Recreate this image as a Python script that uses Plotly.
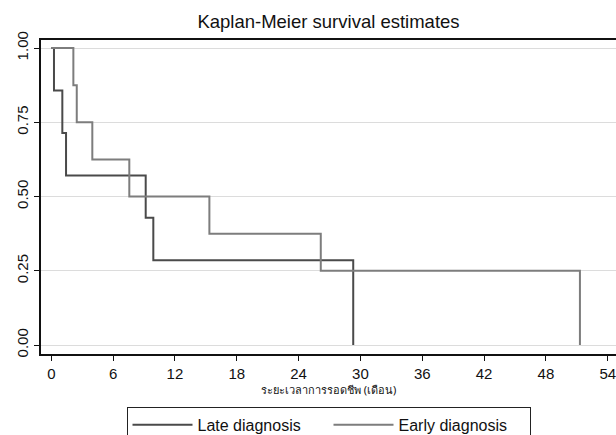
import plotly.graph_objects as go

# Kaplan-Meier step data (months, survival probability)
late_time = [0, 0.26, 1.07, 1.43, 9.16, 9.9, 29.3]
late_surv = [1.0, 0.857, 0.714, 0.571, 0.429, 0.286, 0.0]

early_time = [0, 2.14, 2.47, 3.98, 7.57, 15.34, 26.15, 51.3]
early_surv = [1.0, 0.875, 0.75, 0.625, 0.5, 0.375, 0.25, 0.0]

x_ticks = [0, 6, 12, 18, 24, 30, 36, 42, 48, 54]
y_ticks = [0.0, 0.25, 0.5, 0.75, 1.0]
y_labels = ["0.00", "0.25", "0.50", "0.75", "1.00"]

fig = go.Figure()
fig.add_trace(go.Scatter(x=late_time, y=late_surv, mode="lines", line_shape="hv",
                         name="Late diagnosis", line=dict(color="#4a4a4a", width=2)))
fig.add_trace(go.Scatter(x=early_time, y=early_surv, mode="lines", line_shape="hv",
                         name="Early diagnosis", line=dict(color="#7d7d7d", width=2)))

fig.update_layout(
    width=616, height=435,
    margin=dict(l=41, r=0, t=40, b=81, autoexpand=False),
    paper_bgcolor="white", plot_bgcolor="white",
    font=dict(family="Liberation Sans, Arial, sans-serif", color="#111", size=15),
    title=dict(text="Kaplan-Meier survival estimates", x=0.5, xref="paper",
               xanchor="center", y=0.95, yanchor="middle",
               font=dict(size=18.5, color="#111")),
    showlegend=True,
    legend=dict(orientation="h", x=0.5, xanchor="center", y=-0.168, yanchor="top",
                bordercolor="#222", borderwidth=1, font=dict(size=16),
                itemwidth=60, entrywidth=126, traceorder="normal"),
)
fig.update_xaxes(range=[-1.0, 54.8], tickvals=x_ticks, ticks="outside", ticklen=5,
                 tickcolor="#111", showline=True, linecolor="#111", linewidth=1.5,
                 mirror=True, showgrid=False, zeroline=False, ticklabeloverflow="allow",
                 title=dict(text="ระยะเวลาการรอดชีพ (เดือน)",
                            font=dict(size=11, family="Noto Sans, DejaVu Serif, serif"),
                            standoff=6))
fig.update_yaxes(range=[-0.03, 1.027], tickvals=y_ticks, ticktext=y_labels,
                 tickangle=-90, ticks="outside", ticklen=5, tickcolor="#111",
                 showline=True, linecolor="#111", linewidth=1.5, mirror=True,
                 showgrid=True, gridcolor="#dcdcdc", gridwidth=1, zeroline=False)

fig.write_html("out.html")
